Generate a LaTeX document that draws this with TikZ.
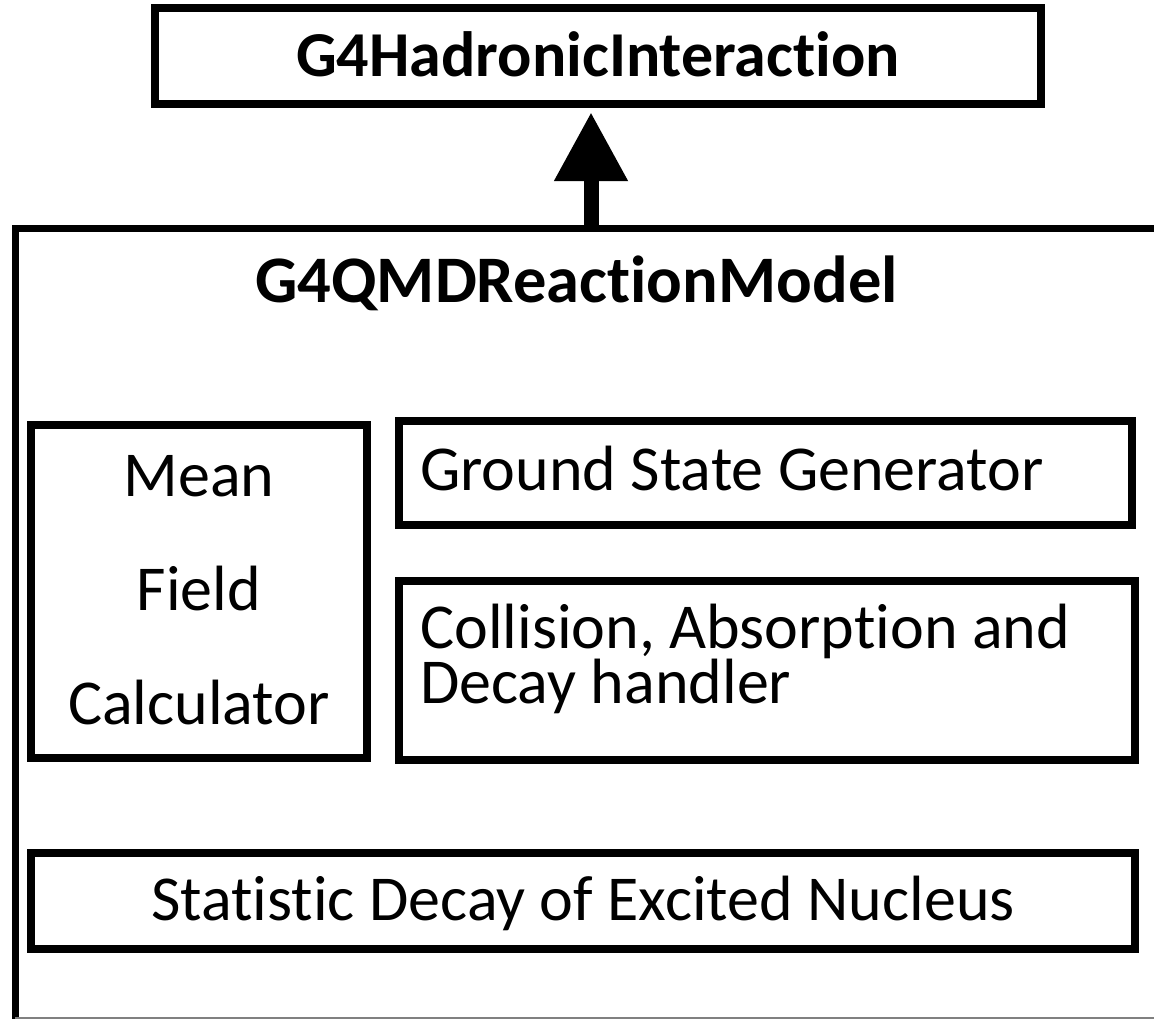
\documentclass[tikz,border=0pt]{standalone}
\usepackage{fontspec}
\setmainfont{Carlito}[Ligatures=CommonOff]
\usetikzlibrary{arrows.meta}

\tikzset{
  panel/.style={draw, line width=8pt, inner sep=0pt, outer sep=0pt},
  txt/.style={font=\fontsize{64}{76}\selectfont, inner sep=0pt},
  title/.style={font=\fontsize{64}{76}\selectfont\bfseries, inner sep=0pt},
}

\begin{document}
\begin{tikzpicture}[x=1pt, y=-1pt]
  \useasboundingbox (0,0) rectangle (1154,1019);
  \clip (0,0) rectangle (1154,1019);

  % base class
  \node[panel, minimum width=886pt, minimum height=96.5pt] (hadint) at (598,56) {};
  \node[title, anchor=base] (hadintl) at (598,77) {G4HadronicInteraction};

  % model frame, open to the right and bottom
  \draw[line width=7pt] (1170,228.5) -- (15,228.5) -- (15,1040);
  \draw[gray, line width=1.5pt] (15,1018) -- (1154,1018);
  \coordinate (qmdtop) at (591,228.5);
  \node[title, font=\fontsize{66.5}{76}\selectfont\bfseries, anchor=base] (qmdl)
    at (576.5,302) {G4QMDReactionModel};

  % inheritance arrow
  \draw[line width=15pt, -{Triangle[length=69pt, width=70pt]}, shorten >=8pt]
    (qmdtop) -- (qmdtop |- hadint.south);

  % parts of the model
  \node[panel, minimum width=336pt, minimum height=333.5pt] (mfc) at (199,591.25) {};
  \node[txt, font=\fontsize{64}{114}\selectfont, align=center] (mfcl) at (199,590.5)
    {Mean\\Field\\Calculator};

  \node[panel, minimum width=733pt, minimum height=104pt] (gsg) at (765.5,472.5) {};
  \node[txt, anchor=base west] (gsgl) at (420,490) {Ground State Generator};

  \node[panel, minimum width=736pt, minimum height=179pt] (cad) at (767,670) {};
  \node[txt, anchor=base west] (cadl1) at (420,648) {Collision, Absorption and};
  \node[txt, anchor=base west] (cadl2) at (420,703) {Decay handler};

  \node[panel, minimum width=1104pt, minimum height=96.5pt] (sden) at (583,901) {};
  \node[txt, anchor=base] (sdenl) at (583,920) {Statistic Decay of Excited Nucleus};
\end{tikzpicture}
\end{document}
